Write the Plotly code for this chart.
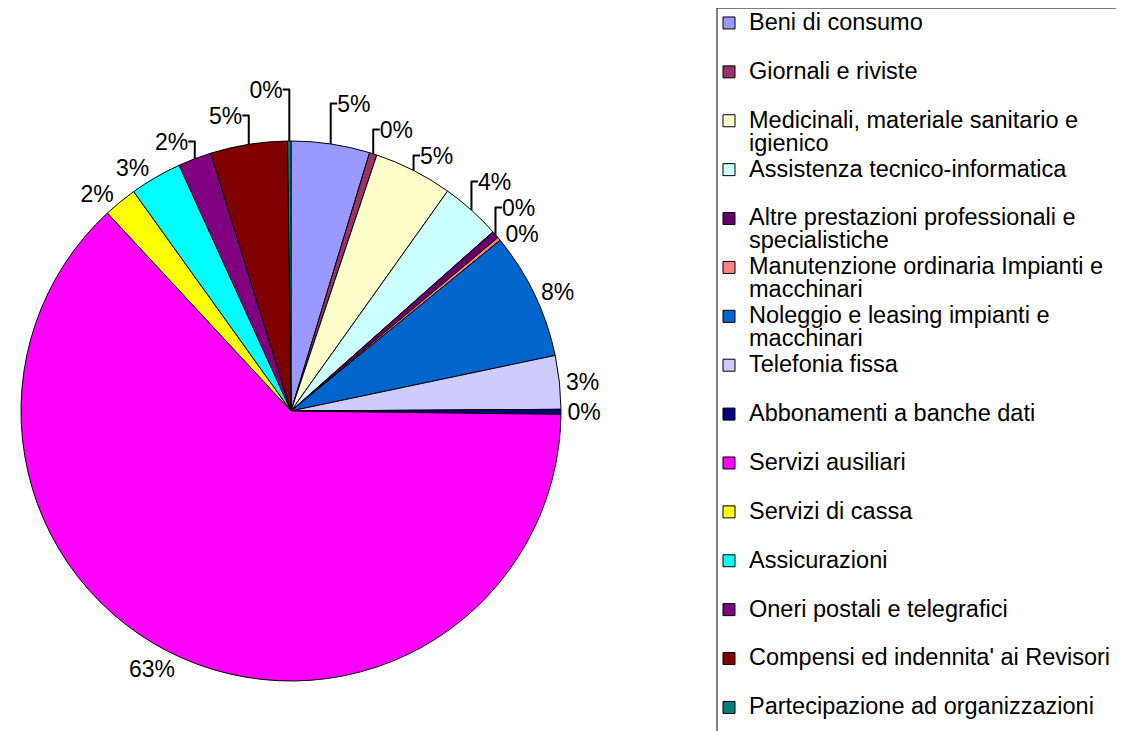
import plotly.graph_objects as go

categories = [
    "Beni di consumo",
    "Giornali e riviste",
    "Medicinali, materiale sanitario e igienico",
    "Assistenza tecnico-informatica",
    "Altre prestazioni professionali e specialistiche",
    "Manutenzione ordinaria Impianti e macchinari",
    "Noleggio e leasing impianti e macchinari",
    "Telefonia fissa",
    "Abbonamenti a banche dati",
    "Servizi ausiliari",
    "Servizi di cassa",
    "Assicurazioni",
    "Oneri postali e telegrafici",
    "Compensi ed indennita' ai Revisori",
    "Partecipazione ad organizzazioni",
]
legend_labels = [
    "Beni di consumo<br> ",
    "Giornali e riviste<br> ",
    "Medicinali, materiale sanitario e<br>igienico",
    "Assistenza tecnico-informatica<br> ",
    "Altre prestazioni professionali e<br>specialistiche",
    "Manutenzione ordinaria Impianti e<br>macchinari",
    "Noleggio e leasing impianti e<br>macchinari",
    "Telefonia fissa<br> ",
    "Abbonamenti a banche dati<br> ",
    "Servizi ausiliari<br> ",
    "Servizi di cassa<br> ",
    "Assicurazioni<br> ",
    "Oneri postali e telegrafici<br> ",
    "Compensi ed indennita' ai Revisori<br> ",
    "Partecipazione ad organizzazioni",
]
values = [4.7, 0.45, 4.7, 3.6, 0.45, 0.2, 7.6, 3.2, 0.3, 62.9, 2.0, 3.1, 2.0, 4.6, 0.2]
colors = ["#9999FF", "#993366", "#FFFFCC", "#CCFFFF", "#660066", "#FF8080",
          "#0066CC", "#CCCCFF", "#000080", "#FF00FF", "#FFFF00", "#00FFFF",
          "#800080", "#800000", "#008080"]

W, H = 1124, 731
FONT = "Liberation Sans, Arial, sans-serif"

labels_html = ['<span style="font-size:23.5px">%s</span>' % l for l in legend_labels]

cx, cy, r = 283, 403, 270
fig = go.Figure(go.Pie(
    labels=labels_html,
    values=values,
    sort=False,
    direction="clockwise",
    rotation=0,
    marker=dict(colors=colors, line=dict(color="black", width=1)),
    texttemplate="%{percent:.0%}",
    textposition="outside",
    outsidetextfont=dict(family=FONT, size=23, color="black"),
    domain=dict(x=[(cx - r) / W, (cx + r) / W], y=[(H - cy - r) / H, (H - cy + r) / H]),
    hoverinfo="skip",
))

lx, ly = 709, 0
fig.update_layout(
    width=W, height=H,
    margin=dict(l=0, r=0, t=0, b=0, autoexpand=False),
    paper_bgcolor="white",
    plot_bgcolor="white",
    font=dict(family=FONT, color="black"),
    showlegend=True,
    legend=dict(
        x=(lx - 8) / W, xanchor="left",
        y=1 + 3 / H, yanchor="top",
        font=dict(family=FONT, size=17.65, color="black"),
        valign="top",
        borderwidth=0,
        maxheight=1000,
        bgcolor="rgba(0,0,0,0)",
        itemclick=False, itemdoubleclick=False,
    ),
    shapes=[
        dict(type="line", xref="paper", yref="paper",
             x0=lx / W, x1=1.01, y0=1 - ly / H, y1=1 - ly / H,
             line=dict(color="black", width=1)),
        dict(type="line", xref="paper", yref="paper",
             x0=lx / W, x1=lx / W, y0=1 - ly / H, y1=-0.01,
             line=dict(color="black", width=1)),
    ],
)

fig.write_html("out.html")
